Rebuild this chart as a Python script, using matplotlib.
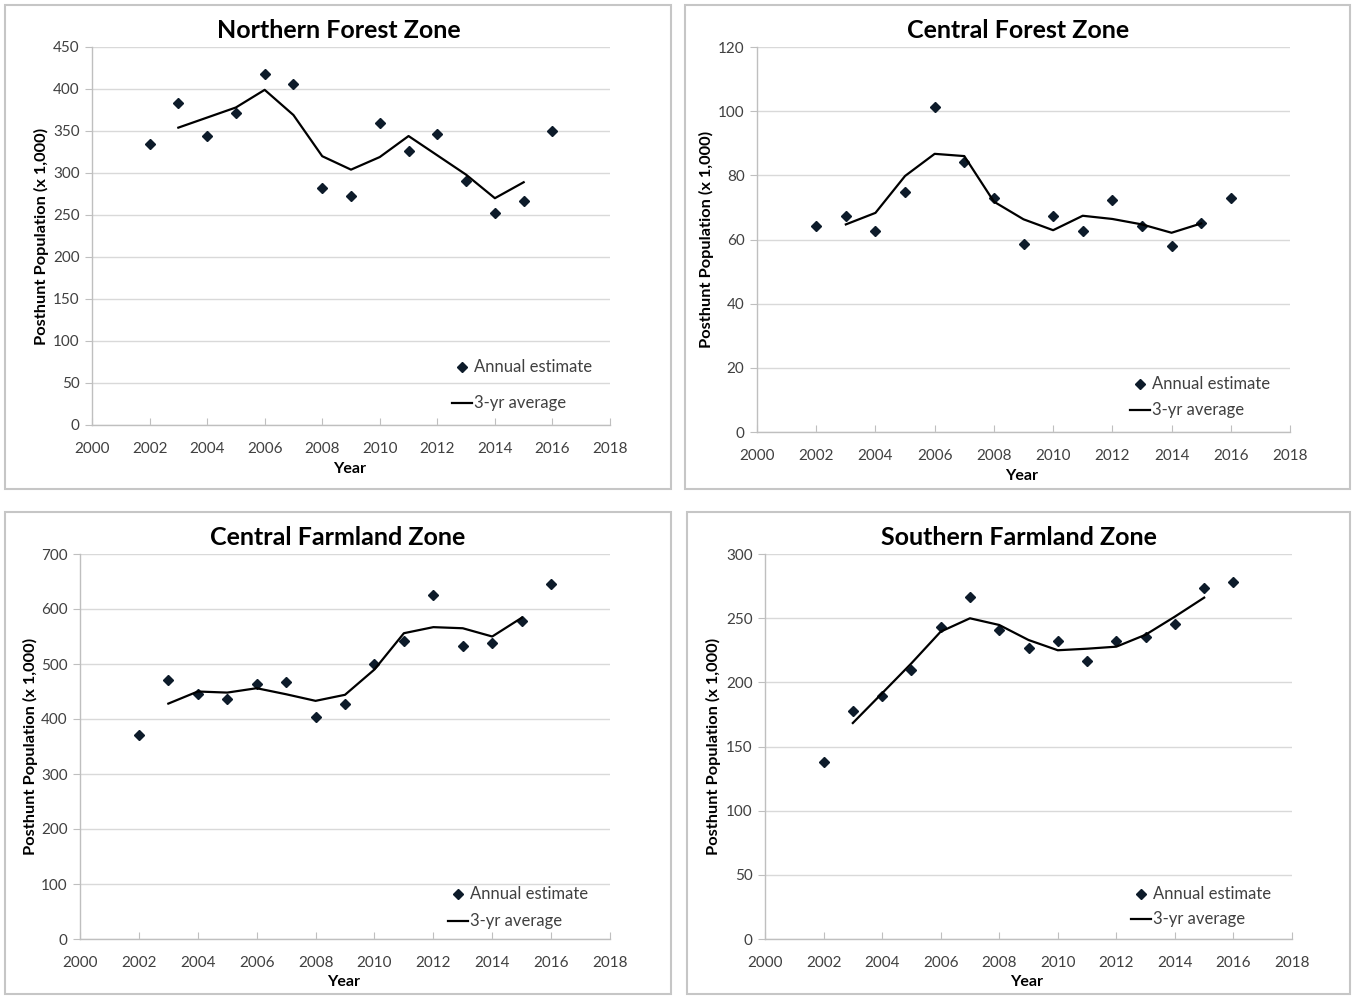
import matplotlib
matplotlib.use('Agg')
import matplotlib.pyplot as plt
import matplotlib.patches as patches

plt.rcParams['font.family'] = ['Lato', 'DejaVu Sans']

# years
years = list(range(2002, 2017))
avg_years = list(range(2003, 2016))

# Northern Forest Zone
north_forest = [334, 383, 344, 372, 418, 406, 282, 273, 359, 326, 347, 291, 252, 267, 350]
north_forest_avg = [354, 366, 378, 399, 369, 320, 304, 319, 344, 321, 298, 270, 289]

# Central Forest Zone
central_forest = [64.3, 67.4, 62.8, 74.8, 101.3, 84.2, 73.0, 58.5, 67.2, 62.8, 72.2, 64.3, 57.9, 65.0, 73.0]
central_forest_avg = [64.7, 68.3, 79.8, 86.7, 86.0, 71.8, 66.3, 62.9, 67.4, 66.4, 64.7, 62.1, 65.0]

# Central Farmland Zone
central_farm = [371, 471, 445, 436, 464, 468, 404, 427, 500, 542, 625, 532, 539, 578, 645]
central_farm_avg = [428, 450, 448, 456, 445, 433, 444, 490, 556, 567, 565, 550, 584]

# Southern Farmland Zone
south_farm = [137.7, 177.4, 189.3, 209.4, 243.4, 266.5, 240.5, 226.8, 232.0, 216.6, 232.5, 235.3, 245.7, 273.8, 278.2]
south_farm_avg = [168.3, 191.5, 214.8, 239.5, 249.9, 244.7, 233.0, 225.0, 226.2, 227.8, 237.1, 251.2, 266.0]

W, H = 1352, 996
fig = plt.figure(figsize=(W / 100, H / 100), dpi=100)
fig.patch.set_facecolor('white')


def fx(x):
    return x / W


def fy(y):
    return 1 - y / H


panels = [
    # title, pts, avg, ymax, ystep, plot box (x0,y0,x1,y1), frame, title xy, ylabel x, year xy, legend
    ('Northern Forest Zone', north_forest, north_forest_avg, 450, 50,
     (92, 47, 610, 425), (5, 5, 671, 489), (339, 30), 41, (350, 469), (455, 367, 403)),
    ('Central Forest Zone', central_forest, central_forest_avg, 120, 20,
     (757, 47, 1290, 432), (685, 5, 1350, 489), (1018, 30), 706, (1022, 476), (1133, 384, 410)),
    ('Central Farmland Zone', central_farm, central_farm_avg, 700, 100,
     (80, 554, 610, 939), (5, 512, 671, 994), (338, 537), 30, (344, 982), (451, 894, 921)),
    ('Southern Farmland Zone', south_farm, south_farm_avg, 300, 50,
     (765, 554, 1292, 939), (687, 512, 1350, 994), (1019, 537), 713, (1027, 982), (1134, 894, 919)),
]

grid_col = '#d9d9d9'
axis_col = '#bfbfbf'
text_col = '#404040'
mk_col = '#0d1b2a'

for title, pts, avg, ymax, ystep, box, frame, txy, ylx, yearxy, leg in panels:
    # panel frame
    fig.patches.append(patches.Rectangle((fx(frame[0]), fy(frame[3])), fx(frame[2] - frame[0]),
                                         (frame[3] - frame[1]) / H, transform=fig.transFigure,
                                         fill=False, edgecolor='#c6c6c6', linewidth=1.5))
    x0, y0, x1, y1 = box
    ax = fig.add_axes([fx(x0), fy(y1), fx(x1 - x0), (y1 - y0) / H])
    ax.set_xlim(2000, 2018)
    ax.set_ylim(0, ymax)
    ax.set_xticks(range(2000, 2019, 2))
    ax.set_yticks(range(0, ymax + 1, ystep))
    ax.grid(axis='y', color=grid_col, linewidth=1)
    ax.set_axisbelow(True)
    for s in ('top', 'right'):
        ax.spines[s].set_visible(False)
    for s in ('left', 'bottom'):
        ax.spines[s].set_color(axis_col)
        ax.spines[s].set_linewidth(1)
    ax.tick_params(axis='x', direction='in', length=5, color=axis_col, labelsize=11,
                   labelcolor=text_col, pad=12)
    ax.tick_params(axis='y', direction='out', length=5, color=axis_col, labelsize=11,
                   labelcolor=text_col, pad=4)

    ax.plot(years, pts, linestyle='none', marker='D', markersize=4.6, color=mk_col,
            label='Annual estimate')
    ax.plot(avg_years, avg, color='black', linewidth=1.6, label='3-yr average')

    fig.text(fx(txy[0]), fy(txy[1]), title, ha='center', va='center', fontsize=18,
             fontweight='bold', color='black')
    fig.text(fx(ylx), fy((y0 + y1) / 2), 'Posthunt Population (x 1,000)', rotation=90,
             ha='center', va='center', fontsize=11.8, fontweight='bold', color='black')
    fig.text(fx(yearxy[0]), fy(yearxy[1]), 'Year', ha='center', va='center', fontsize=11.5,
             fontweight='bold', color='black')

    # legend entries
    lx, ly1, ly2 = leg
    fig.lines.append(plt.Line2D([fx(lx + 7)], [fy(ly1)], transform=fig.transFigure,
                                marker='D', markersize=4.6, color=mk_col, linestyle='none'))
    fig.lines.append(plt.Line2D([fx(lx - 3), fx(lx + 17)], [fy(ly2), fy(ly2)],
                                transform=fig.transFigure, color='black', linewidth=1.6))
    fig.text(fx(lx + 19), fy(ly1), 'Annual estimate', ha='left', va='center', fontsize=12,
             color=text_col)
    fig.text(fx(lx + 19), fy(ly2), '3-yr average', ha='left', va='center', fontsize=12,
             color=text_col)

fig.savefig('out.png', dpi=100, facecolor='white')
